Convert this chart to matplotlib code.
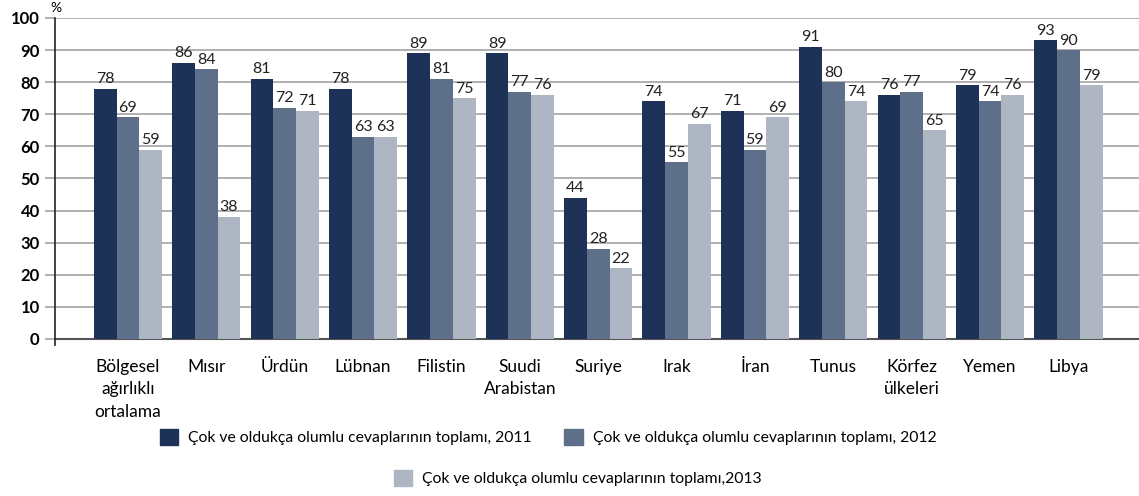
import numpy as np
import matplotlib.pyplot as plt
from matplotlib.patches import Patch

# Data
categories = ['Bölgesel\nağırlıklı\nortalama', 'Mısır', 'Ürdün', 'Lübnan', 'Filistin',
              'Suudi\nArabistan', 'Suriye', 'Irak', 'İran', 'Tunus',
              'Körfez\nülkeleri', 'Yemen', 'Libya']
v2011 = [78, 86, 81, 78, 89, 89, 44, 74, 71, 91, 76, 79, 93]
v2012 = [69, 84, 72, 63, 81, 77, 28, 55, 59, 80, 77, 74, 90]
v2013 = [59, 38, 71, 63, 75, 76, 22, 67, 69, 74, 65, 76, 79]
series_labels = ['Çok ve oldukça olumlu cevaplarının toplamı, 2011',
                 'Çok ve oldukça olumlu cevaplarının toplamı, 2012',
                 'Çok ve oldukça olumlu cevaplarının toplamı,2013']
colors = ['#1e3258', '#5e7089', '#aeb6c3']
yticks = [0, 10, 20, 30, 40, 50, 60, 70, 80, 90, 100]

plt.rcParams['font.family'] = ['Lato', 'DejaVu Sans']

fig = plt.figure(figsize=(11.39, 4.96), dpi=100)
ax = fig.add_axes([55 / 1139, (496 - 345) / 496, 1 - 55 / 1139, (345 - 18) / 496])

x = np.arange(len(categories))
w = 0.29
for i, (vals, c) in enumerate(zip([v2011, v2012, v2013], colors)):
    pos = x + (i - 1) * w
    ax.bar(pos, vals, width=w, color=c, zorder=3)
    for p, v in zip(pos, vals):
        ax.text(p, v + 0.8, str(v), ha='center', va='bottom', fontsize=11.5,
                color='#222222', zorder=4)

ax.set_xlim(-0.93, 12.9)
ax.set_ylim(-1.9, 100)
ax.set_yticks(yticks)
ax.set_yticklabels([str(t) for t in yticks], fontsize=12, fontweight='bold')
ax.yaxis.grid(True, color='#aaaaaa', linewidth=1.3, zorder=0)
ax.axhline(0, color='#555555', linewidth=1.5, zorder=2)
ax.tick_params(axis='y', length=7, color='#aaaaaa', width=1.3, pad=4)
ax.set_xticks(x)
ax.set_xticklabels(categories, fontsize=12.5, linespacing=1.5)
ax.tick_params(axis='x', length=0, pad=10)

for s in ['top', 'right', 'bottom']:
    ax.spines[s].set_visible(False)
ax.spines['left'].set_color('#222222')
ax.spines['left'].set_linewidth(1.2)

fig.text(50 / 1139, 1 - 8 / 496, '%', fontsize=10, ha='left', va='center')

handles = [Patch(color=c) for c in colors]
fig.legend(handles[:2], series_labels[:2], ncol=2, frameon=False, fontsize=11.3,
           loc='center', bbox_to_anchor=(0.481, 1 - 437 / 496),
           handlelength=1.2, handleheight=1.2, columnspacing=2.1, handletextpad=0.6)
fig.legend(handles[2:], series_labels[2:], frameon=False, fontsize=11.3,
           loc='center', bbox_to_anchor=(0.507, 1 - 478 / 496),
           handlelength=1.2, handleheight=1.2, handletextpad=0.6)

fig.savefig('out.png', dpi=100)
